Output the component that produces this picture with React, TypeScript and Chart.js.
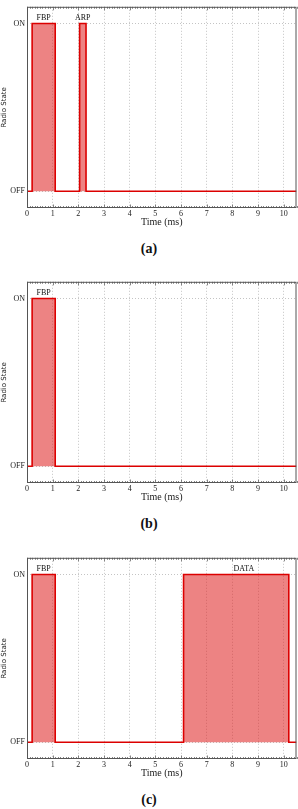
import React, { useEffect, useRef } from "react";
import { Chart, registerables } from "chart.js";
Chart.register(...registerables);

const X_TICKS = [0, 1, 2, 3, 4, 5, 6, 7, 8, 9, 10];
const X_MIN = 0;
const X_MAX = 10.5;
const Y_TICKS = [0, 1];
const Y_LABELS = ["OFF", "ON"];
const Y_MIN = -0.1;
const Y_MAX = 1.1;

const timesA = [0, 0.2, 1.1, 2.05, 2.3, 10.5];
const statesA = [0, 1, 0, 1, 0, 0];
const labelsA = ["FBP", "ARP"];
const labelXA = [0.65, 2.17];

const timesB = [0, 0.2, 1.1, 10.5];
const statesB = [0, 1, 0, 0];
const labelsB = ["FBP"];
const labelXB = [0.65];

const timesC = [0, 0.2, 1.1, 6.1, 10.2, 10.5];
const statesC = [0, 1, 0, 1, 0, 0];
const labelsC = ["FBP", "DATA"];
const labelXC = [0.65, 8.45];

const SERIF = '"Liberation Serif", "Times New Roman", serif';
const SANS = '"DejaVu Sans", sans-serif';

const framePlugin = {
  id: "frame",
  afterDatasetsDraw(chart: any, _args: any, opts: any) {
    const { ctx, chartArea: a, scales } = chart;
    const x = scales.x;
    const y = scales.y;
    ctx.save();
    // minor / major ticks on top and bottom spines
    ctx.strokeStyle = "#666";
    ctx.lineWidth = 0.8;
    for (let i = 0; i <= 105; i++) {
      const px = Math.round(x.getPixelForValue(i / 10)) + 0.5;
      const len = i % 10 === 0 ? 3.5 : 2;
      ctx.beginPath();
      ctx.moveTo(px, a.bottom);
      ctx.lineTo(px, a.bottom - len);
      ctx.moveTo(px, a.top);
      ctx.lineTo(px, a.top + len);
      ctx.stroke();
    }
    ctx.strokeStyle = "#555";
    ctx.lineWidth = 1;
    ctx.strokeRect(a.left + 0.5, a.top + 0.5, a.right - a.left - 1, a.bottom - a.top - 1);
    // annotations
    const labels: string[] = (opts && opts.labels) || [];
    const xs: number[] = (opts && opts.xs) || [];
    ctx.fillStyle = "#111";
    ctx.font = "8px " + SERIF;
    ctx.textAlign = "center";
    ctx.textBaseline = "middle";
    const yOn = y.getPixelForValue(1);
    labels.forEach((t, i) => {
      ctx.fillText(t, x.getPixelForValue(xs[i]), yOn - 6);
    });
    ctx.restore();
  },
};

function RadioChart(props: {
  times: number[];
  states: number[];
  labels: string[];
  labelXs: number[];
  top: number;
  caption: string;
}) {
  const ref = useRef<HTMLCanvasElement>(null);
  useEffect(() => {
    const data = props.times.map((t, i) => ({ x: t, y: props.states[i] }));
    const chart = new Chart(ref.current as HTMLCanvasElement, {
      type: "line",
      data: {
        datasets: [
          {
            data,
            stepped: "before",
            fill: "origin",
            backgroundColor: "rgba(222, 30, 30, 0.55)",
            borderColor: "rgb(220, 0, 0)",
            borderWidth: 1.6,
            pointRadius: 0,
            tension: 0,
          } as any,
        ],
      },
      options: {
        animation: false,
        responsive: false,
        devicePixelRatio: 1,
        layout: { padding: { top: 1, right: 1.5, left: 0, bottom: 0 } },
        plugins: {
          legend: { display: false },
          tooltip: { enabled: false },
          frame: { labels: props.labels, xs: props.labelXs },
        } as any,
        scales: {
          x: {
            type: "linear",
            min: X_MIN,
            max: X_MAX,
            afterBuildTicks: (s: any) => {
              s.ticks = X_TICKS.map((v) => ({ value: v }));
            },
            afterFit: (s: any) => {
              s.height = 22;
            },
            grid: {
              color: "#c4c4c4",
              lineWidth: 1,
              drawTicks: false,
            },
            border: { display: false, dash: [1, 2] },
            ticks: {
              padding: 1,
              color: "#222",
              font: { family: SERIF, size: 8 },
              maxRotation: 0,
              autoSkip: false,
            },
            title: {
              display: true,
              text: "Time (ms)",
              color: "#222",
              font: { family: SERIF, size: 10 },
              padding: { top: 0, bottom: 1.3 },
            },
          },
          y: {
            type: "linear",
            min: Y_MIN,
            max: Y_MAX,
            afterBuildTicks: (s: any) => {
              s.ticks = Y_TICKS.map((v) => ({ value: v }));
            },
            afterFit: (s: any) => {
              s.width = 27;
            },
            grid: {
              color: "#c4c4c4",
              lineWidth: 1,
              drawTicks: false,
            },
            border: { display: false, dash: [1, 2] },
            ticks: {
              padding: 2,
              color: "#222",
              font: { family: SERIF, size: 8 },
              callback: (v: any) => Y_LABELS[Y_TICKS.indexOf(Number(v))],
            },
            title: {
              display: true,
              text: "Radio State",
              color: "#222",
              font: { family: SANS, size: 7 },
              padding: { top: 0, bottom: 0 },
            },
          },
        },
      },
      plugins: [framePlugin as any],
    });
    return () => chart.destroy();
  }, []);
  return (
    <>
      <canvas
        ref={ref}
        width={298}
        height={230}
        style={{ position: "absolute", left: 0, top: props.top, width: 298, height: 230 }}
      />
      <div
        style={{
          position: "absolute",
          left: 0,
          width: 298,
          top: props.top + 241,
          textAlign: "center",
          fontFamily: SERIF,
          fontWeight: "bold",
          fontSize: 14,
          lineHeight: "16px",
          color: "#111",
        }}
      >
        {props.caption}
      </div>
    </>
  );
}

export default function App() {
  return (
    <div style={{ position: "absolute", left: 0, top: 0, width: 298, height: 809, background: "#fff" }}>
      <RadioChart times={timesA} states={statesA} labels={labelsA} labelXs={labelXA} top={0} caption="(a)" />
      <RadioChart times={timesB} states={statesB} labels={labelsB} labelXs={labelXB} top={275} caption="(b)" />
      <RadioChart times={timesC} states={statesC} labels={labelsC} labelXs={labelXC} top={551} caption="(c)" />
    </div>
  );
}
